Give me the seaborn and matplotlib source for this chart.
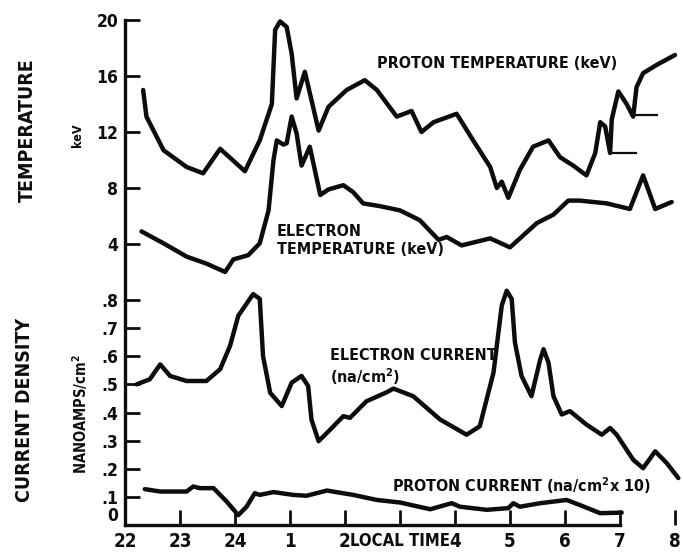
import matplotlib
matplotlib.use("Agg")
import matplotlib.pyplot as plt
import seaborn as sns
import pandas as pd

# ---------------- data (time in hours after 22:00 local time) ----------------
pt_time = [0.33, 0.39, 0.70, 1.12, 1.42, 1.73, 2.18, 2.45, 2.67, 2.73, 2.82, 2.94, 3.03, 3.12,
           3.27, 3.52, 3.70, 4.03, 4.36, 4.58, 4.94, 5.21, 5.39, 5.61, 6.03, 6.33, 6.64, 6.76,
           6.85, 6.97, 7.18, 7.42, 7.70, 7.91, 8.15, 8.39, 8.55, 8.64, 8.73, 8.82, 8.85, 8.97,
           9.12, 9.24, 9.30, 9.42, 9.67, 10.0]
pt_kev = [15.0, 13.1, 10.7, 9.5, 9.05, 10.8, 9.2, 11.4, 14.0, 19.3, 19.9, 19.5, 17.6, 14.4,
          16.3, 12.1, 13.8, 15.0, 15.7, 15.0, 13.1, 13.5, 12.0, 12.7, 13.3, 11.4, 9.5, 8.0,
          8.45, 7.3, 9.3, 10.95, 11.4, 10.2, 9.6, 8.9, 10.5, 12.7, 12.4, 10.5, 12.9, 14.9,
          14.0, 13.1, 15.2, 16.2, 16.8, 17.5]

# short horizontal reference marks on the proton temperature trace
ref_start = [8.82, 9.24]
ref_end = [9.30, 9.69]
ref_kev = [10.5, 13.2]

et_time = [0.30, 0.70, 1.12, 1.48, 1.82, 1.97, 2.24, 2.45, 2.61, 2.70, 2.76, 2.88, 2.94, 3.03,
           3.12, 3.21, 3.36, 3.55, 3.70, 3.97, 4.15, 4.33, 4.64, 5.00, 5.36, 5.70, 5.85, 6.12,
           6.64, 7.00, 7.49, 7.79, 8.06, 8.27, 8.76, 9.18, 9.42, 9.64, 9.94]
et_kev = [4.9, 4.05, 3.1, 2.6, 2.0, 2.9, 3.2, 4.05, 6.4, 10.0, 11.4, 11.1, 11.2, 13.1,
          11.9, 9.6, 10.95, 7.5, 7.9, 8.2, 7.7, 6.9, 6.7, 6.4, 5.7, 4.3, 4.5, 3.9,
          4.4, 3.76, 5.5, 6.1, 7.1, 7.1, 6.9, 6.5, 8.9, 6.5, 7.0]

ec_time = [0.21, 0.45, 0.64, 0.82, 1.12, 1.48, 1.73, 1.91, 2.06, 2.33, 2.45, 2.51, 2.64, 2.85,
           3.03, 3.21, 3.33, 3.39, 3.52, 3.73, 3.97, 4.09, 4.39, 4.76, 4.88, 5.24, 5.73, 6.21,
           6.45, 6.70, 6.85, 6.94, 7.03, 7.09, 7.21, 7.39, 7.55, 7.61, 7.70, 7.79, 7.94, 8.09,
           8.39, 8.67, 8.82, 8.94, 9.24, 9.42, 9.64, 9.85, 10.06]
ec_na = [0.50, 0.518, 0.571, 0.53, 0.512, 0.512, 0.554, 0.637, 0.744, 0.821, 0.804, 0.60, 0.47, 0.423,
         0.506, 0.53, 0.494, 0.375, 0.298, 0.339, 0.387, 0.381, 0.44, 0.472, 0.485, 0.458, 0.375, 0.321,
         0.351, 0.542, 0.78, 0.833, 0.804, 0.649, 0.53, 0.458, 0.589, 0.625, 0.577, 0.458, 0.393, 0.405,
         0.357, 0.321, 0.345, 0.321, 0.232, 0.202, 0.262, 0.22, 0.167]

pc_time = [0.36, 0.64, 1.12, 1.24, 1.36, 1.61, 1.85, 2.06, 2.21, 2.36, 2.45, 2.70, 3.06, 3.30,
           3.67, 4.15, 4.58, 5.00, 5.55, 5.94, 6.09, 6.58, 6.97, 7.06, 7.18, 7.55, 8.03, 8.27,
           8.64, 9.03]
pc_na = [0.1275, 0.119, 0.119, 0.137, 0.131, 0.131, 0.083, 0.035, 0.065, 0.113, 0.107, 0.117, 0.107, 0.104,
         0.1225, 0.107, 0.089, 0.08, 0.056, 0.0775, 0.065, 0.054, 0.06, 0.0775, 0.065, 0.0775, 0.089, 0.071,
         0.042, 0.044]

x_ticks = [0, 1, 2, 3, 4, 5, 6, 7, 8, 9, 10]
x_ticklabels = ["22", "23", "24", "1", "2", "", "4", "5", "6", "7", "8"]
temp_ticks = [4, 8, 12, 16, 20]
temp_ticklabels = ["4", "8", "12", "16", "20"]
cur_ticks = [0, 0.1, 0.2, 0.3, 0.4, 0.5, 0.6, 0.7, 0.8]
cur_ticklabels = ["0", ".1", ".2", ".3", ".4", ".5", ".6", ".7", ".8"]

# ---------------- figure ----------------
sns.set_theme(style="white")
plt.rcParams["font.family"] = ["DejaVu Sans"]
plt.rcParams["font.stretch"] = "condensed"
plt.rcParams["font.weight"] = "bold"

W, H = 683, 553
fig = plt.figure(figsize=(W / 100, H / 100), dpi=100)
fig.patch.set_facecolor("white")
left = 125 / W
width = (W - 125) / W
ax_t = fig.add_axes([left, (H - 300) / H, width, 280 / H])
ax_c = fig.add_axes([left, (H - 525) / H, width, 225 / H])

LW = 3.2
ink = "#0d0d0d"

df_pt = pd.DataFrame({"t": pt_time, "v": pt_kev})
df_et = pd.DataFrame({"t": et_time, "v": et_kev})
df_ec = pd.DataFrame({"t": ec_time, "v": ec_na})
df_pc = pd.DataFrame({"t": pc_time, "v": pc_na})

for df, ax in [(df_pt, ax_t), (df_et, ax_t), (df_ec, ax_c), (df_pc, ax_c)]:
    sns.lineplot(data=df, x="t", y="v", ax=ax, color=ink, linewidth=LW,
                 sort=False, estimator=None, clip_on=False,
                 solid_joinstyle="round", solid_capstyle="round")

ax_t.hlines(ref_kev, ref_start, ref_end, color=ink, linewidth=1.6)

xmax = (W - 125) / 55
for ax in (ax_t, ax_c):
    ax.set_xlim(0, xmax)
    ax.set_facecolor("none")
    ax.set_xlabel("")
    ax.set_ylabel("")
    for s in ("top", "right"):
        ax.spines[s].set_visible(False)
    ax.spines["left"].set_linewidth(2.4)
    ax.spines["left"].set_color(ink)

ax_t.spines["bottom"].set_visible(False)
ax_t.set_ylim(0, 20)
ax_t.set_xticks([])
ax_t.set_yticks(temp_ticks)
ax_t.set_yticklabels(temp_ticklabels)
ax_t.tick_params(axis="y", direction="in", length=11, width=2, color=ink,
                 labelcolor=ink, labelsize=12.5, pad=5, left=True)

ax_c.set_ylim(0, 0.8)
ax_c.set_yticks(cur_ticks)
ax_c.set_yticklabels(cur_ticklabels)
ax_c.set_xticks(x_ticks)
ax_c.set_xticklabels(x_ticklabels)
ax_c.spines["bottom"].set_linewidth(2.4)
ax_c.spines["bottom"].set_color(ink)
ax_c.spines["bottom"].set_bounds(0, 9)
ax_c.tick_params(axis="y", direction="in", length=11, width=2, color=ink,
                 labelcolor=ink, labelsize=12.5, pad=5, left=True)
ax_c.tick_params(axis="x", direction="in", length=11, width=2, color=ink,
                 labelcolor=ink, labelsize=13.5, pad=5, bottom=True)
for lab in ax_c.get_xticklabels() + ax_c.get_yticklabels() + ax_t.get_yticklabels():
    lab.set_fontweight("bold")
    lab.set_fontstretch("condensed")
# lift the "0" label so it sits above the "22" time label, as in the original
ax_c.get_yticklabels()[0].set_verticalalignment("bottom")

# ---------------- texts ----------------
def px(x, y, s, **kw):
    fig.text(x / W, 1 - y / H, s, fontweight="bold", fontstretch="condensed",
             color=ink, **kw)

px(27, 130, "TEMPERATURE", rotation=90, ha="center", va="center", fontsize=14)
px(77, 135, "keV", rotation=90, ha="center", va="center", fontsize=9)
px(25, 410, "CURRENT DENSITY", rotation=90, ha="center", va="center", fontsize=14)
px(80, 414, "NANOAMPS/cm$^\\mathbf{2}$", rotation=90, ha="center", va="center", fontsize=10.5)
px(497, 64, "PROTON TEMPERATURE (keV)", ha="center", va="center", fontsize=11.5)
px(277, 231, "ELECTRON", ha="left", va="center", fontsize=11.5)
px(277, 250, "TEMPERATURE (keV)", ha="left", va="center", fontsize=11.5)
px(330, 356, "ELECTRON CURRENT", ha="left", va="center", fontsize=11.5)
px(330, 377, "(na/cm$^\\mathbf{2}$)", ha="left", va="center", fontsize=11.5)
px(392, 486, "PROTON CURRENT (na/cm$^\\mathbf{2}$x 10)", ha="left", va="center", fontsize=11.5)
px(400, 541, "LOCAL TIME", ha="center", va="center", fontsize=12)

fig.savefig("out.png", dpi=100, facecolor="white")
